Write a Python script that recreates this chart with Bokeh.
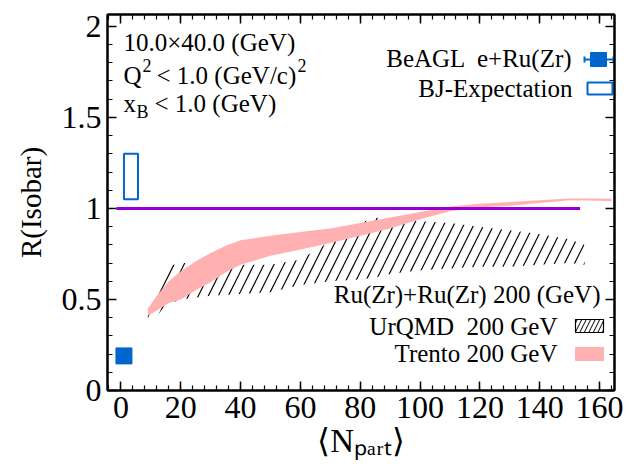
from bokeh.plotting import figure
from bokeh.models import Label, LinearAxis, SingleIntervalTicker, Range1d
from bokeh.embed import file_html
from bokeh.resources import INLINE

# ---------------- data ----------------
trento_x = [9, 12, 16, 20, 25, 30, 35, 40, 50, 60, 70, 80, 90, 100, 110, 120, 130, 140, 150, 160, 164]
trento_hi = [0.45, 0.52, 0.60, 0.655, 0.71, 0.755, 0.795, 0.825, 0.85, 0.87, 0.89, 0.92, 0.95, 0.98,
             1.01, 1.025, 1.035, 1.045, 1.055, 1.055, 1.053]
trento_lo = [0.41, 0.44, 0.48, 0.50, 0.55, 0.595, 0.65, 0.69, 0.74, 0.775, 0.81, 0.85, 0.89, 0.94,
             0.985, 1.005, 1.015, 1.03, 1.045, 1.042, 1.04]

urqmd_x = [9, 15, 20, 30, 40, 50, 60, 70, 80, 85, 90, 100, 110, 120, 130, 140, 150, 155]
urqmd_hi = [0.50, 0.68, 0.70, 0.70, 0.69, 0.69, 0.72, 0.82, 0.92, 0.95, 0.94, 0.93, 0.92, 0.90, 0.88, 0.86, 0.83, 0.80]
urqmd_lo = [0.35, 0.47, 0.50, 0.52, 0.53, 0.54, 0.58, 0.60, 0.61, 0.62, 0.64, 0.66, 0.67, 0.68, 0.68, 0.69, 0.70, 0.69]

beagl_x = [1.0]
beagl_y = [0.19]

bj_left = [1.0]
bj_right = [5.7]
bj_bottom = [1.05]
bj_top = [1.30]

ref_x = [-1.5, 153.5]
ref_y = [1.0, 1.0]

x_ticks_interval = 20
y_ticks_interval = 0.5

# ---------------- layout ----------------
W, H = 626, 464
FL, FR, FT, FB = 107, 614, 14, 390
X0, X1 = -4.5, 165.0
Y0, Y1 = 0.0, 2.065
SX = (FR - FL) / (X1 - X0)
SY = (FB - FT) / (Y1 - Y0)


def xd(px):
    return X0 + (px - FL) / SX


def yd(py):
    return Y1 - (py - FT) / SY


SERIF = "Liberation Serif"
PINK = "#ffb0b0"
BLUE = "#0066cc"
PURPLE = "#9400d3"

p = figure(width=W, height=H, output_backend="svg", toolbar_location=None,
           x_range=Range1d(X0, X1), y_range=Range1d(Y0, Y1),
           min_border_left=FL, min_border_right=W - FR, min_border_top=FT, min_border_bottom=H - FB,
           background_fill_color="white", border_fill_color="white")
p.xgrid.visible = False
p.ygrid.visible = False
p.outline_line_color = "black"
p.outline_line_width = 2

xt = SingleIntervalTicker(interval=x_ticks_interval, num_minor_ticks=5)
yt = SingleIntervalTicker(interval=y_ticks_interval, num_minor_ticks=5)


def style_axis(ax, labels=True):
    ax.axis_line_width = 2
    ax.axis_line_color = "black"
    ax.major_tick_in = 9
    ax.major_tick_out = 0
    ax.minor_tick_in = 5
    ax.minor_tick_out = 0
    ax.major_tick_line_width = 1.5
    ax.minor_tick_line_width = 1.2
    ax.major_label_text_font = SERIF
    ax.major_label_text_font_size = "32px"
    ax.major_label_text_color = "black"
    if not labels:
        ax.major_label_text_font_size = "0px"
        ax.major_label_text_alpha = 0


p.xaxis.ticker = xt
p.yaxis.ticker = yt
style_axis(p.xaxis[0])
style_axis(p.yaxis[0])
p.xaxis.major_label_standoff = 6
p.yaxis.major_label_standoff = 6
p.yaxis.axis_label = "R(Isobar)"
p.yaxis.axis_label_text_font = SERIF
p.yaxis.axis_label_text_font_size = "29px"
p.yaxis.axis_label_text_font_style = "normal"
p.yaxis.axis_label_text_color = "black"
p.yaxis.axis_label_standoff = 12
p.xaxis.axis_label = "⟨Nₚₐᵣₜ⟩"
p.xaxis.axis_label_text_font = SERIF
p.xaxis.axis_label_text_font_size = "33px"
p.xaxis.axis_label_text_font_style = "normal"
p.xaxis.axis_label_text_color = "black"
p.xaxis.axis_label_standoff = 2

top = LinearAxis(ticker=SingleIntervalTicker(interval=x_ticks_interval, num_minor_ticks=5))
style_axis(top, labels=False)
p.add_layout(top, "above")
right = LinearAxis(ticker=SingleIntervalTicker(interval=y_ticks_interval, num_minor_ticks=5))
style_axis(right, labels=False)
p.add_layout(right, "right")

# ---------------- marks ----------------
p.varea(x=urqmd_x, y1=urqmd_lo, y2=urqmd_hi, fill_alpha=0,
        hatch_pattern="/", hatch_color="black", hatch_weight=1.2, hatch_scale=20)
p.varea(x=trento_x, y1=trento_lo, y2=trento_hi, fill_color=PINK, fill_alpha=1)
p.line(ref_x, ref_y, line_color=PURPLE, line_width=3)
p.quad(left=bj_left, right=bj_right, bottom=bj_bottom, top=bj_top,
       fill_alpha=0, line_color=BLUE, line_width=2)
p.scatter(beagl_x, beagl_y, marker="square", size=16, fill_color=BLUE, line_color=BLUE)

# ---------------- legend swatches ----------------
p.quad(left=[xd(590)], right=[xd(606)], bottom=[yd(66)], top=[yd(52)],
       fill_color=BLUE, line_color=BLUE)
p.segment(x0=[xd(584)], y0=[yd(59)], x1=[xd(613)], y1=[yd(59)], line_color=BLUE, line_width=2)
p.segment(x0=[xd(584), xd(613)], y0=[yd(56), yd(56)], x1=[xd(584), xd(613)], y1=[yd(62), yd(62)],
          line_color=BLUE, line_width=2)
p.quad(left=[xd(587)], right=[xd(612)], bottom=[yd(94)], top=[yd(82)],
       fill_alpha=0, line_color=BLUE, line_width=2)
p.quad(left=[xd(575)], right=[xd(603)], bottom=[yd(332)], top=[yd(319)],
       fill_alpha=0, line_color="black", line_width=1.2,
       hatch_pattern="/", hatch_color="black", hatch_weight=1, hatch_scale=9)
p.quad(left=[xd(575)], right=[xd(603)], bottom=[yd(360)], top=[yd(347)],
       fill_color=PINK, line_color=PINK)


# ---------------- texts ----------------
def lab(px, py, text, size="25px", align="left", baseline="middle"):
    p.add_layout(Label(x=xd(px), y=yd(py), text=text, text_font=SERIF, text_font_size=size,
                       text_align=align, text_baseline=baseline, text_color="black"))


lab(123, 42, "10.0×40.0 (GeV)")
lab(123, 75, "Q")
lab(142, 65, "2", size="18px")
lab(156, 75, "< 1.0 (GeV/c)")
lab(297, 65, "2", size="18px")
lab(123, 103, "x")
lab(136, 111, "B", size="18px")
lab(154, 103, "< 1.0 (GeV)")

lab(572, 58, "BeAGL \u00a0e+Ru(Zr)", align="right")
lab(572, 88, "BJ-Expectation", align="right")
lab(600, 294, "Ru(Zr)+Ru(Zr) 200 (GeV)", align="right")
lab(557, 326, "UrQMD \u00a0200 GeV", align="right")
lab(557, 353, "Trento 200 GeV", align="right")

open("out.html", "w").write(file_html(p, INLINE))
